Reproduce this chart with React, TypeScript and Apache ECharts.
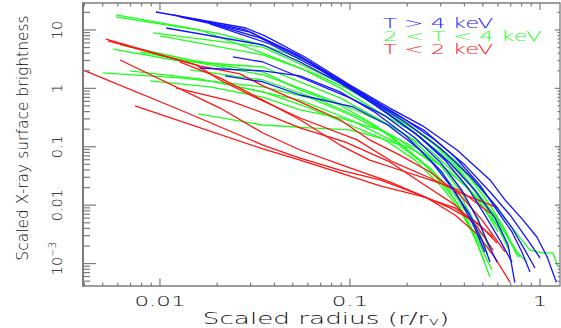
import React, { useEffect, useRef } from "react";
import * as echarts from "echarts";

type Pt = [number, number];

// Scaled surface-brightness profiles, grouped by cluster temperature
const hotProfiles: Pt[][] = [
  [[0.00953, 20.3], [0.0283, 10.8], [0.0357, 7.9], [0.0579, 3.45], [0.1, 1.14], [0.162, 0.46], [0.242, 0.226], [0.366, 0.088], [0.546, 0.027], [0.654, 0.0123], [0.813, 0.0056], [0.963, 0.00285], [1.09, 0.0013], [1.22, 0.00048]],
  [[0.0117, 18.1], [0.0283, 10], [0.0546, 3.59], [0.1, 1.06], [0.162, 0.41], [0.248, 0.187], [0.357, 0.0668], [0.483, 0.022], [0.601, 0.00766], [0.712, 0.00348], [0.803, 0.00158], [0.886, 0.00072]],
  [[0.0127, 16.7], [0.0298, 9.2], [0.0579, 3.06], [0.094, 1.19], [0.153, 0.39], [0.234, 0.147], [0.336, 0.0528], [0.454, 0.018], [0.58, 0.006], [0.679, 0.0021], [0.737, 0.00047]],
  [[0.0108, 10.8], [0.0348, 5.53], [0.0546, 2.83], [0.0886, 1.24], [0.144, 0.46], [0.22, 0.172], [0.316, 0.059], [0.418, 0.0197], [0.512, 0.0068], [0.616, 0.0025], [0.712, 0.00106]],
  [[0.0242, 3.45], [0.0348, 2.83], [0.0593, 1.39], [0.1, 0.686], [0.153, 0.337], [0.22, 0.141], [0.298, 0.055], [0.388, 0.018], [0.471, 0.0056], [0.546, 0.00185], [0.594, 0.00106]],
  [[0.0162, 2.23], [0.0348, 1.99], [0.0546, 1.63], [0.0886, 0.87], [0.135, 0.39], [0.195, 0.159], [0.264, 0.059], [0.344, 0.0197], [0.428, 0.0068], [0.495, 0.0025], [0.546, 0.00106]],
  [[0.022, 1.63], [0.0348, 1.29], [0.0546, 0.77], [0.104, 0.48], [0.158, 0.236], [0.228, 0.095], [0.305, 0.037], [0.379, 0.0123], [0.454, 0.0041], [0.512, 0.00158]],
  [[0.0162, 14.8], [0.0336, 7.3], [0.0616, 2.83], [0.113, 0.87], [0.183, 0.337], [0.28, 0.131], [0.402, 0.049], [0.546, 0.0168], [0.695, 0.0068], [0.865, 0.0025], [1.0, 0.00125]],
  [[0.0183, 12.7], [0.0379, 5.75], [0.0695, 2.07], [0.12, 0.71], [0.195, 0.266], [0.298, 0.095], [0.428, 0.0316], [0.58, 0.0101], [0.712, 0.0041], [0.833, 0.0017], [0.941, 0.00084]],
];

const warmProfiles: Pt[][] = [
  [[0.00587, 18.1], [0.0162, 10], [0.0348, 4.0], [0.0546, 2.23], [0.0886, 1.02], [0.144, 0.38], [0.207, 0.194], [0.298, 0.0783], [0.402, 0.0304], [0.512, 0.0115], [0.616, 0.0046], [0.737, 0.0017], [0.855, 0.00106]],
  [[0.00587, 16.7], [0.0197, 8.9], [0.0348, 5.53], [0.0616, 2.83], [0.1, 0.94], [0.162, 0.365], [0.248, 0.153], [0.357, 0.059], [0.483, 0.0197], [0.616, 0.0075], [0.764, 0.0031], [0.886, 0.0017], [1.02, 0.00152], [1.17, 0.00152], [1.24, 0.0009]],
  [[0.0092, 8.9], [0.0348, 5.1], [0.0546, 2.62], [0.094, 1.14], [0.144, 0.46], [0.22, 0.194], [0.316, 0.08], [0.428, 0.0292], [0.546, 0.0101], [0.654, 0.0038], [0.764, 0.0013]],
  [[0.00566, 4.7], [0.0127, 2.94], [0.0348, 2.32], [0.0546, 1.29], [0.0886, 0.686], [0.144, 0.29], [0.207, 0.141], [0.298, 0.049], [0.379, 0.018], [0.471, 0.006], [0.546, 0.00158]],
  [[0.00617, 5.53], [0.0144, 3.06], [0.0348, 1.91], [0.0546, 0.94], [0.0886, 0.52], [0.135, 0.236], [0.195, 0.095], [0.264, 0.04], [0.357, 0.0123], [0.438, 0.0038], [0.546, 0.00059]],
  [[0.005, 1.84], [0.0127, 1.51], [0.0348, 1.06], [0.0616, 0.686], [0.1, 0.35], [0.162, 0.159], [0.234, 0.059], [0.316, 0.022], [0.402, 0.0068], [0.483, 0.0021], [0.558, 0.00078]],
  [[0.00695, 1.99], [0.0162, 1.45], [0.0348, 0.87], [0.0616, 0.46], [0.1, 0.236], [0.153, 0.131], [0.22, 0.059], [0.298, 0.022], [0.379, 0.0083], [0.454, 0.00274], [0.512, 0.00106]],
  [[0.00886, 1.34], [0.0183, 1.06], [0.0348, 0.71], [0.0546, 0.43], [0.0886, 0.311], [0.144, 0.194], [0.234, 0.088], [0.336, 0.037], [0.454, 0.015], [0.58, 0.0068], [0.695, 0.0025], [0.785, 0.0013]],
  [[0.0159, 0.365], [0.0348, 0.236], [0.0616, 0.21], [0.1, 0.194], [0.144, 0.141], [0.207, 0.095], [0.298, 0.049], [0.402, 0.022], [0.512, 0.0083], [0.616, 0.0038], [0.695, 0.00158]],
  [[0.01, 7.9], [0.0348, 3.73], [0.0616, 1.91], [0.106, 0.87], [0.172, 0.35], [0.264, 0.131], [0.37, 0.0434], [0.483, 0.0133], [0.594, 0.0046], [0.679, 0.00185]],
  [[0.00785, 4.2], [0.0348, 1.7], [0.0616, 0.87], [0.106, 0.43], [0.172, 0.21], [0.264, 0.088], [0.379, 0.0292], [0.495, 0.0101], [0.601, 0.00348]],
  [[0.0144, 2.07], [0.0348, 1.39], [0.0695, 0.63], [0.113, 0.311], [0.183, 0.131], [0.28, 0.049], [0.379, 0.015], [0.471, 0.0041], [0.532, 0.0014]],
  [[0.0234, 1.14], [0.0546, 0.63], [0.1, 0.29], [0.172, 0.121], [0.264, 0.0434], [0.357, 0.015], [0.438, 0.0052], [0.495, 0.00185]],
];

const coolProfiles: Pt[][] = [
  [[0.00395, 2.05], [0.0127, 0.43], [0.0348, 0.107], [0.0546, 0.064], [0.0886, 0.04], [0.144, 0.027], [0.234, 0.015], [0.336, 0.009], [0.454, 0.0052], [0.566, 0.00285]],
  [[0.00739, 0.5], [0.0348, 0.092], [0.0546, 0.059], [0.0855, 0.037], [0.144, 0.0213], [0.234, 0.0144], [0.357, 0.009], [0.483, 0.0046], [0.594, 0.00225]],
  [[0.00617, 3.06], [0.0207, 0.46], [0.0348, 0.172], [0.0546, 0.088], [0.1, 0.0434], [0.162, 0.025], [0.254, 0.0133], [0.357, 0.0068], [0.471, 0.0031], [0.58, 0.00125], [0.695, 0.00048]],
  [[0.0052, 7.0], [0.0155, 2.52], [0.0207, 1.39], [0.0298, 0.77], [0.0546, 0.311], [0.109, 0.131], [0.168, 0.055], [0.264, 0.0292], [0.402, 0.015], [0.601, 0.009]],
  [[0.00533, 6.5], [0.0162, 2.42], [0.0264, 1.77], [0.0348, 1.1], [0.0546, 0.585], [0.0886, 0.29], [0.127, 0.131], [0.183, 0.072], [0.264, 0.037], [0.379, 0.015], [0.495, 0.0056], [0.654, 0.00158]],
  [[0.0127, 2.83], [0.0207, 1.51], [0.0348, 0.63], [0.0546, 0.29], [0.0886, 0.107], [0.127, 0.059], [0.183, 0.04], [0.264, 0.027], [0.379, 0.018], [0.546, 0.0073]],
  [[0.0121, 1.02], [0.0234, 0.608], [0.0348, 0.38], [0.0546, 0.21], [0.094, 0.121], [0.162, 0.055], [0.248, 0.022], [0.357, 0.0101], [0.471, 0.0041], [0.566, 0.0017]],
];

// Axis ranges and tick values
const X_RANGE: [number, number] = [0.003936, 1.274];
const Y_RANGE: [number, number] = [0.000413, 28.95];
const xMajorTicks = [0.01, 0.1, 1];
const xTickLabels = ["0.01", "0.1", "1"];
const xMinorTicks = [
  0.004, 0.005, 0.006, 0.007, 0.008, 0.009,
  0.02, 0.03, 0.04, 0.05, 0.06, 0.07, 0.08, 0.09,
  0.2, 0.3, 0.4, 0.5, 0.6, 0.7, 0.8, 0.9,
];
const yMajorTicks = [0.001, 0.01, 0.1, 1, 10];
const yMinorTicks = [
  0.0005, 0.0006, 0.0007, 0.0008, 0.0009,
  0.002, 0.003, 0.004, 0.005, 0.006, 0.007, 0.008, 0.009,
  0.02, 0.03, 0.04, 0.05, 0.06, 0.07, 0.08, 0.09,
  0.2, 0.3, 0.4, 0.5, 0.6, 0.7, 0.8, 0.9,
  2, 3, 4, 5, 6, 7, 8, 9, 20,
];

const legendTexts = ["T > 4 keV", "2 < T < 4 keV", "T < 2 keV"];

const BLUE = "#1414ff";
const GREEN = "#1eff1e";
const RED = "#ff1414";
const AXIS_GREY = "#7c7c7c";
const INK = "#0d0d0d";
const FONT = "DejaVu Sans";
const WEIGHT = 200;
const STRETCH = 1.64; // horizontal text is drawn wide

const profileSeries = (profiles: Pt[][], color: string, tag: string) =>
  profiles.map((pts, i) => ({
    type: "line" as const,
    name: `${tag}-${i}`,
    data: pts,
    showSymbol: false,
    symbol: "none",
    silent: true,
    clip: true,
    lineStyle: { color, width: 1.3 },
    emphasis: { disabled: true },
    z: 3,
  }));

export default function App() {
  const ref = useRef<HTMLDivElement>(null);

  useEffect(() => {
    if (!ref.current) return;
    const chart = echarts.init(ref.current, undefined, { renderer: "svg" });

    const yLabel = (v: number) => {
      const e = Math.round(Math.log10(v));
      if (e === 1) return "10";
      if (e === 0) return "1";
      if (e === -1) return "0.1";
      if (e === -2) return "0.01";
      return `{b|10}{s|\u2212${-e}}`;
    };

    const xTickData = [
      ...xMajorTicks.map((v, i) => [v, 1, 1, i]),
      ...xMinorTicks.map((v) => [v, 1, 0, -1]),
    ];
    const yTickData = [
      ...yMajorTicks.map((v) => [0.1, v, 1]),
      ...yMinorTicks.map((v) => [0.1, v, 0]),
    ];

    const tickStyle = { stroke: AXIS_GREY, lineWidth: 1.2 };

    chart.setOption({
      animation: false,
      backgroundColor: "#ffffff",
      grid: {
        left: 83,
        top: 3,
        right: 1,
        bottom: 42,
        show: true,
        borderColor: AXIS_GREY,
        borderWidth: 1.3,
        backgroundColor: "transparent",
      },
      xAxis: {
        type: "log",
        logBase: 10,
        min: X_RANGE[0],
        max: X_RANGE[1],
        axisLine: { show: false },
        axisTick: { show: false },
        axisLabel: { show: false },
        splitLine: { show: false },
        minorTick: { show: false },
      },
      yAxis: {
        type: "log",
        logBase: 10,
        min: Y_RANGE[0],
        max: Y_RANGE[1],
        axisLine: { show: true, lineStyle: { color: AXIS_GREY, width: 2 } },
        axisTick: { show: false },
        splitLine: { show: false },
        axisLabel: {
          show: true,
          rotate: 90,
          margin: 19,
          showMinLabel: false,
          showMaxLabel: false,
          fontFamily: FONT,
          fontWeight: WEIGHT,
          fontSize: 14.5,
          color: INK,
          formatter: yLabel,
          rich: {
            b: { fontFamily: FONT, fontWeight: WEIGHT, fontSize: 14.5, color: INK, lineHeight: 17, verticalAlign: "bottom", padding: [0, 0, 0, 10] },
            s: { fontFamily: FONT, fontWeight: WEIGHT, fontSize: 10, color: INK, lineHeight: 12, verticalAlign: "top" },
          },
        },
      },
      graphic: [
        {
          type: "text",
          x: 22.5,
          y: 138,
          rotation: Math.PI / 2,
          silent: true,
          style: {
            text: "Scaled X-ray surface brightness",
            fontFamily: FONT,
            fontWeight: WEIGHT,
            fontSize: 15.5,
            fill: INK,
            align: "center",
            verticalAlign: "middle",
            textAlign: "center",
            textVerticalAlign: "middle",
          },
        },
        {
          type: "text",
          x: 326,
          y: 310.5,
          scaleX: STRETCH,
          silent: true,
          style: {
            text: "{n|Scaled radius (r/r}{sub|v}{n|)}",
            fontFamily: FONT,
            fontWeight: WEIGHT,
            fontSize: 16,
            fill: INK,
            align: "center",
            verticalAlign: "top",
            textAlign: "center",
            textVerticalAlign: "top",
            rich: {
              n: { fontFamily: FONT, fontWeight: WEIGHT, fontSize: 16, fill: INK, color: INK, lineHeight: 16, verticalAlign: "top" },
              sub: { fontFamily: FONT, fontWeight: WEIGHT, fontSize: 11, fill: INK, color: INK, lineHeight: 11, verticalAlign: "bottom", padding: [8, 0, 0, 0] },
            },
          },
        },
        ...legendTexts.map((t, i) => ({
          type: "text",
          x: 383,
          y: 22.6 + i * 13.2,
          scaleX: STRETCH,
          silent: true,
          style: {
            text: t,
            fontFamily: FONT,
            fontWeight: WEIGHT,
            fontSize: 14,
            fill: [BLUE, GREEN, RED][i],
            align: "left",
            verticalAlign: "middle",
            textAlign: "left",
            textVerticalAlign: "middle",
          },
        })),
      ],
      series: [
        ...profileSeries(warmProfiles, GREEN, "warm"),
        ...profileSeries(coolProfiles, RED, "cool"),
        ...profileSeries(hotProfiles, BLUE, "hot"),
        {
          type: "custom",
          name: "x-ticks",
          coordinateSystem: "cartesian2d",
          data: xTickData,
          encode: { x: 0, y: 1 },
          clip: false,
          silent: true,
          z: 6,
          renderItem: (params: any, api: any) => {
            const cs = params.coordSys;
            const v = api.value(0);
            const major = api.value(2) === 1;
            const idx = api.value(3);
            const px = api.coord([v, 1])[0];
            const bottom = cs.y + cs.height;
            const top = cs.y;
            const children: any[] = [
              { type: "line", shape: { x1: px, y1: bottom, x2: px, y2: bottom - (major ? 7.5 : 3.5) }, style: tickStyle },
              { type: "line", shape: { x1: px, y1: top, x2: px, y2: top + (major ? 7 : 3.5) }, style: tickStyle },
            ];
            if (major && idx >= 0) {
              children.push({
                type: "text",
                x: px,
                y: bottom + 15,
                scaleX: STRETCH,
                style: {
                  text: xTickLabels[idx],
                  fontFamily: FONT,
                  fontWeight: WEIGHT,
                  fontSize: 14,
                  fill: INK,
                  align: "center",
                  verticalAlign: "middle",
                },
              });
            }
            return { type: "group", children };
          },
        },
        {
          type: "custom",
          name: "y-ticks",
          coordinateSystem: "cartesian2d",
          data: yTickData,
          encode: { x: 0, y: 1 },
          clip: false,
          silent: true,
          z: 6,
          renderItem: (params: any, api: any) => {
            const cs = params.coordSys;
            const v = api.value(1);
            const major = api.value(2) === 1;
            const py = api.coord([0.1, v])[1];
            const left = cs.x;
            const right = cs.x + cs.width;
            return {
              type: "group",
              children: [
                { type: "line", shape: { x1: left, y1: py, x2: left + (major ? 13 : 7), y2: py }, style: tickStyle },
                { type: "line", shape: { x1: right, y1: py, x2: right - (major ? 5 : 2.5), y2: py }, style: tickStyle },
              ],
            };
          },
        },
      ],
    });

    return () => chart.dispose();
  }, []);

  return (
    <div
      ref={ref}
      style={{ position: "fixed", left: 0, top: 0, width: 561, height: 328, background: "#ffffff" }}
    />
  );
}
